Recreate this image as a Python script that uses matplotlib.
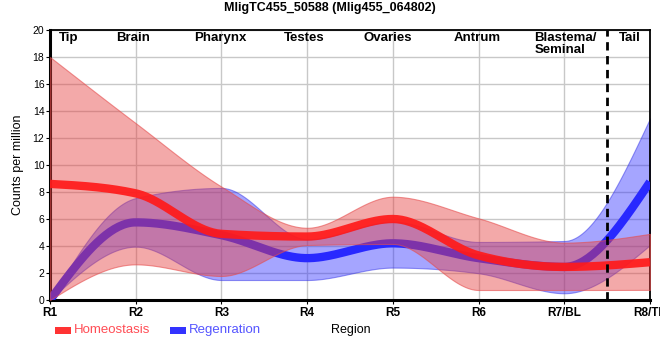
import numpy as np
import matplotlib
matplotlib.use('Agg')
import matplotlib.pyplot as plt
from matplotlib.patches import Rectangle

plt.rcParams['font.family'] = ['Liberation Sans', 'DejaVu Sans']

# valores
regions = ['R1', 'R2', 'R3', 'R4', 'R5', 'R6', 'R7/BL', 'R8/TL']
homeo_mean = [8.6, 7.9, 4.9, 4.7, 6.0, 3.3, 2.45, 2.8]
homeo_upper = [18.0, 13.1, 8.4, 5.35, 7.65, 6.05, 4.25, 4.9]
homeo_lower = [0.0, 2.64, 1.78, 4.07, 4.15, 0.74, 0.74, 0.75]
regen_mean = [0.0, 5.75, 4.8, 3.1, 4.2, 3.1, 2.45, 8.75]
regen_upper = [0.0, 7.55, 8.3, 4.5, 5.8, 4.3, 4.37, 13.45]
regen_lower = [0.0, 3.95, 1.48, 1.48, 2.4, 1.98, 0.5, 4.07]

tissues = ['Tip', 'Brain', 'Pharynx', 'Testes', 'Ovaries', 'Antrum', 'Blastema/\nSeminal', 'Tail']
tissue_x = [1.22, 1.97, 2.99, 3.96, 4.94, 5.98, 6.65, 7.77]
tissue_ha = ['center', 'center', 'center', 'center', 'center', 'center', 'left', 'center']


def monotone(xs, ys, n=40):
    # interpolacion cubica monotona (como d3.curveMonotoneX)
    xs = np.asarray(xs, float)
    ys = np.asarray(ys, float)
    h = np.diff(xs)
    s = np.diff(ys) / h
    m = np.zeros(len(xs))
    for i in range(1, len(xs) - 1):
        p = (s[i - 1] * h[i] + s[i] * h[i - 1]) / (h[i - 1] + h[i])
        m[i] = (np.sign(s[i - 1]) + np.sign(s[i])) * min(abs(s[i - 1]), abs(s[i]), 0.5 * abs(p))
    m[0] = (3 * s[0] - m[1]) / 2
    m[-1] = (3 * s[-1] - m[-2]) / 2
    out_x, out_y = [], []
    for i in range(len(xs) - 1):
        t = np.linspace(0, 1, n, endpoint=(i == len(xs) - 2))
        h00 = 2 * t**3 - 3 * t**2 + 1
        h10 = t**3 - 2 * t**2 + t
        h01 = -2 * t**3 + 3 * t**2
        h11 = t**3 - t**2
        out_x.extend(xs[i] + t * h[i])
        out_y.extend(h00 * ys[i] + h10 * h[i] * m[i] + h01 * ys[i + 1] + h11 * h[i] * m[i + 1])
    return np.array(out_x), np.array(out_y)


x = np.arange(1, len(regions) + 1)

fig = plt.figure(figsize=(6.6, 3.6), dpi=100)
ax = fig.add_axes([50 / 660, 60 / 360, 600 / 660, 270 / 360])

red = '#ff1a1a'
blue = '#2828ff'

# Regeneracion (debajo)
xx, lo = monotone(x, regen_lower)
_, hi = monotone(x, regen_upper)
ax.fill_between(xx, lo, hi, facecolor=(0.16, 0.16, 1.0, 0.42), edgecolor=(0.2, 0.2, 0.9, 0.5), linewidth=0.8, zorder=2)
_, mm = monotone(x, regen_mean)
ax.plot(xx, mm, color=blue, lw=6, solid_capstyle='butt', zorder=3)

# Homeostasis (encima)
_, lo = monotone(x, homeo_lower)
_, hi = monotone(x, homeo_upper)
ax.fill_between(xx, lo, hi, facecolor=(0.9, 0.25, 0.25, 0.45), edgecolor=(0.9, 0.3, 0.3, 0.6), linewidth=0.8, zorder=4)
_, mm = monotone(x, homeo_mean)
ax.plot(xx, mm, color=red, lw=6, alpha=0.92, solid_capstyle='butt', zorder=5)

ax.axvline(7.5, color='black', lw=2, ls=(0, (3, 2)), zorder=6)

ax.set_xlim(1, 8)
ax.set_ylim(0, 20)
ax.set_xticks(x)
ax.set_xticklabels(regions, fontsize=8.5, fontweight='bold')
ax.set_yticks(np.arange(0, 21, 2))
ax.tick_params(axis='y', labelsize=7.5, length=3, pad=1)
ax.tick_params(axis='x', length=3, pad=2)
ax.grid(True, color='#c8c8c8', lw=1)
ax.set_axisbelow(True)
for side in ['left', 'bottom']:
    ax.spines[side].set_linewidth(2.2)
for side in ['top', 'right']:
    ax.spines[side].set_linewidth(1.3)

ax.set_ylabel('Counts per million', fontsize=9, labelpad=6)

for name, tx, ha in zip(tissues, tissue_x, tissue_ha):
    ax.text(tx, 19.85, name, ha=ha, va='top', fontsize=9.5, fontweight='bold',
            linespacing=1.0, zorder=7)

fig.text(0.5, 1 - 8.5 / 360, 'MligTC455_50588 (Mlig455_064802)', ha='center', va='center',
         fontsize=9, fontweight='bold')
fig.text(351 / 660, 1 - 330 / 360, 'Region', ha='center', va='center', fontsize=9)

# leyenda manual
fig.patches.append(Rectangle((55 / 660, 1 - 334 / 360), 16 / 660, 7 / 360, transform=fig.transFigure,
                             color='#ff3333', lw=0))
fig.text(74 / 660, 1 - 330 / 360, 'Homeostasis', color='#ff4d55', fontsize=9.5, va='center')
fig.patches.append(Rectangle((170 / 660, 1 - 334 / 360), 16 / 660, 7 / 360, transform=fig.transFigure,
                             color='#3333ff', lw=0))
fig.text(189 / 660, 1 - 330 / 360, 'Regenration', color='#5555ff', fontsize=9.5, va='center')

fig.savefig('out.png', dpi=100)
